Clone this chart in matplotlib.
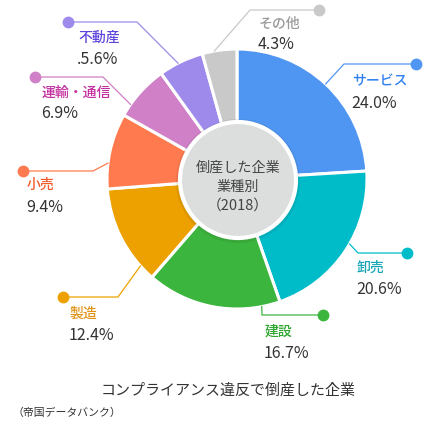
import numpy as np
import matplotlib
matplotlib.use('Agg')
import matplotlib.pyplot as plt
from matplotlib.patches import Circle

plt.rcParams['font.family'] = ['Noto Sans CJK JP', 'DejaVu Sans']

W, H = 440, 436

# data
industries = ['サービス', '卸売', '建設', '製造', '小売', '運輸・通信', '不動産', 'その他']
shares = [24.0, 20.6, 16.7, 12.4, 9.4, 6.9, 5.6, 4.3]
share_labels = ['24.0%', '20.6%', '16.7%', '12.4%', '9.4%', '6.9%', '.5.6%', '4.3%']

wedge_colors = ['#4f96f2', '#00bcc9', '#3cb53e', '#eca100', '#ff7b4f', '#cf80c6', '#9d8aeb', '#c9c9c9']
label_colors = ['#2f7ff0', '#16a5b6', '#2ea52e', '#e0951a', '#f25a2a', '#c2309f', '#5d45dc', '#9a9a9a']

# layout (pixel coords, y from top)
CX, CY, R = 237, 179, 130
anchor_ang = [47, -30, -79, -138, 173, 145, 117, 100]
elbows = [(344, 64), (358, 253), (262, 315), (118, 297), (93, 171), (103, 77), (137, 22), (250, 10)]
dots = [(416, 64), (407, 253), (323, 315), (63, 297), (23, 171), (35, 77), (68, 22), (319, 10)]
name_pos = [(352, 81), (357, 268), (265, 332), (70, 314), (27, 185), (42, 93), (78, 38), (259, 24)]
pct_pos = [(351, 104), (356, 289), (264, 353), (69, 335), (26, 207), (41, 114), (77, 59), (258, 45)]


def Y(y):
    return H - y


fig = plt.figure(figsize=(W / 100, H / 100), dpi=100)
ax = fig.add_axes([0, 0, 1, 1])

ax.pie(shares, colors=wedge_colors, startangle=90, counterclock=False,
       center=(CX, Y(CY)), radius=R,
       wedgeprops=dict(edgecolor='white', linewidth=2.2))

# center disc
ax.add_patch(Circle((CX + 1, Y(CY + 2)), 62, fc='black', alpha=0.07, lw=0, zorder=5))
ax.add_patch(Circle((CX + 1, Y(CY + 1)), 58, fc='#dcdddd', ec='white', lw=3, zorder=6))
ax.text(CX + 1, Y(168), '倒産した企業', ha='center', va='center', fontsize=10.2, color='#444444', zorder=7)
ax.text(CX + 1, Y(187), '業種別', ha='center', va='center', fontsize=10.2, color='#444444', zorder=7)
ax.text(CX + 1, Y(207), '（2018）', ha='center', va='center', fontsize=10.6, color='#444444', zorder=7)

# leader lines and labels
for i in range(len(industries)):
    a = np.radians(anchor_ang[i])
    ax0 = CX + R * np.cos(a)
    ay0 = CY - R * np.sin(a)
    xs = [ax0, elbows[i][0], dots[i][0]]
    ys = [Y(ay0), Y(elbows[i][1]), Y(dots[i][1])]
    ax.plot(xs, ys, color=wedge_colors[i], lw=0.9, zorder=4)
    ax.plot(dots[i][0], Y(dots[i][1]), 'o', color=wedge_colors[i], ms=7.5, zorder=4)
    ax.text(name_pos[i][0], Y(name_pos[i][1]), industries[i], ha='left', va='center',
            fontsize=10, fontweight='medium', color=label_colors[i])
    ax.text(pct_pos[i][0], Y(pct_pos[i][1]), share_labels[i], ha='left', va='center',
            fontsize=11.5, color='#333333')

ax.text(228, Y(390), 'コンプライアンス違反で倒産した企業', ha='center', va='center',
        fontsize=10.8, color='#333333')
ax.text(12, Y(413), '（帝国データバンク）', ha='left', va='center', fontsize=7.8, color='#333333')

ax.set_xlim(0, W)
ax.set_ylim(0, H)
ax.set_aspect('equal')
ax.axis('off')

fig.savefig('out.png', dpi=100, facecolor='white')
